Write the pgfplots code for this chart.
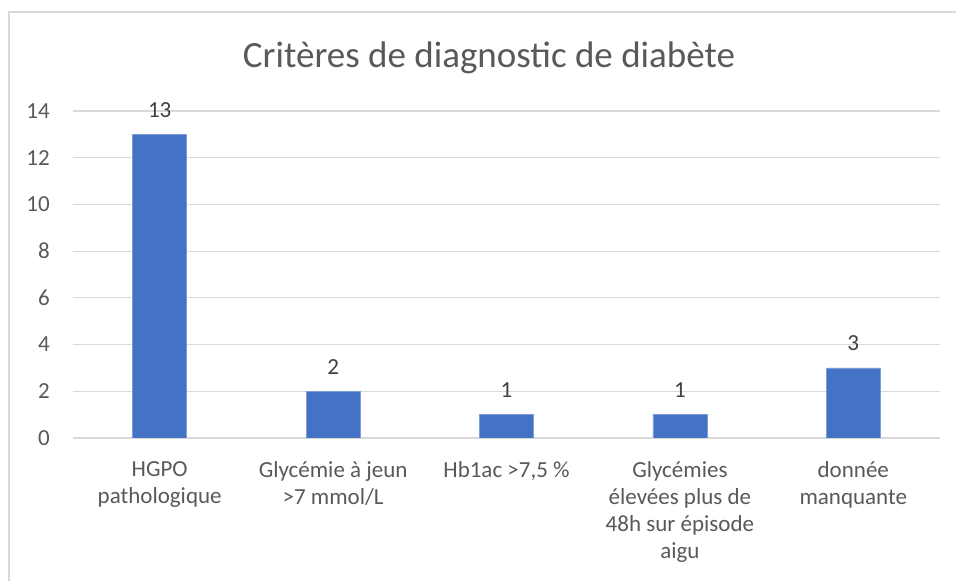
\documentclass[border=0pt]{standalone}
\usepackage{fontspec}
\setmainfont{Carlito}
\usepackage{pgfplots}
\pgfplotsset{compat=1.18}
\definecolor{barblue}{HTML}{4472C4}
\definecolor{gridgray}{HTML}{D9D9D9}
\definecolor{textgray}{HTML}{595959}
\definecolor{labelgray}{HTML}{404040}
\begin{document}
\begin{tikzpicture}
\useasboundingbox (0,0) rectangle (956pt,581pt);
% chart frame (left and top edges visible)
\draw[gridgray, line width=1.2pt] (9pt,0) -- (9pt,569pt) -- (956pt,569pt);
\node[textgray, font=\fontsize{37}{42}\selectfont, anchor=base, inner sep=0pt] at (489pt,513pt) {Critères de diagnostic de diabète};
\begin{axis}[
    at={(73pt,143pt)}, anchor=south west,
    scale only axis,
    width=867pt, height=327pt,
    ybar,
    bar width=54pt,
    xmin=-0.5, xmax=4.5,
    ymin=0, ymax=14,
    ytick={0,2,...,14},
    xtick=data,
    xticklabels={{HGPO\\pathologique},{Glycémie à jeun\\>7 mmol/L},{Hb1ac >7,5 \%},{Glycémies\\élevées plus de\\48h sur épisode\\aigu},{donnée\\manquante}},
    axis line style={draw=none},
    major tick length=0pt,
    ymajorgrids=true,
    major grid style={gridgray, line width=1.2pt},
    /pgf/number format/assume math mode=true,
    tick label style={font=\fontsize{23}{27}\selectfont, textgray},
    yticklabel style={anchor=east, inner sep=0pt, xshift=-23pt},
    xticklabel style={anchor=north, align=center, inner sep=0pt, yshift=-23pt},
    yticklabels={0,2,4,6,8,10,12,14},
    nodes near coords,
    nodes near coords style={font=\fontsize{23}{27}\selectfont, labelgray, anchor=base, inner sep=0pt, yshift=17pt},
]
\addplot[fill=barblue, draw=barblue!70!white, line width=0.8pt] coordinates {
    (0,13) (1,2) (2,1) (3,1) (4,3)
};
\end{axis}
\end{tikzpicture}
\end{document}
